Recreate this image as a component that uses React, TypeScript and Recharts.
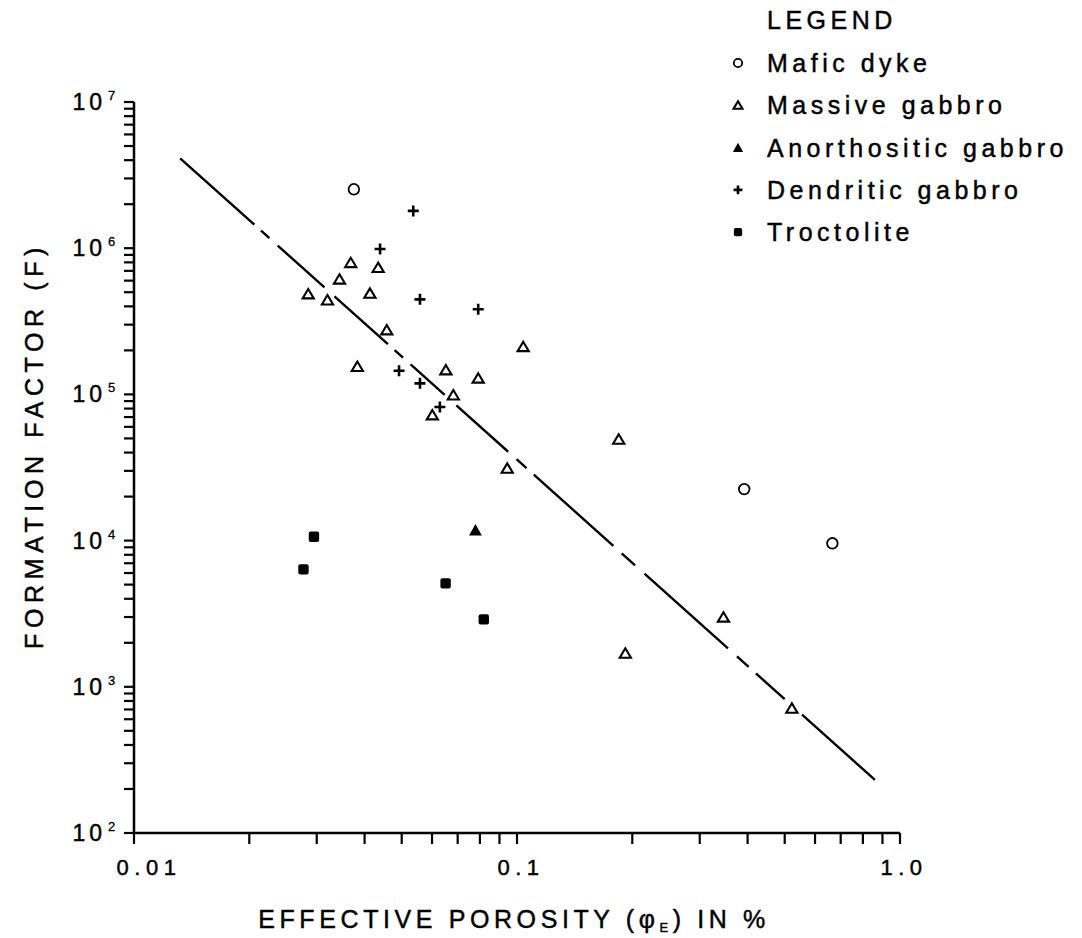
import React from 'react';
import { ComposedChart, Scatter, Line, XAxis, YAxis, Legend, Label } from 'recharts';

// effective porosity (%) vs formation factor
const maficDyke = [
  { x: 0.0375, y: 2530000 },
  { x: 0.392, y: 22500 },
  { x: 0.666, y: 9580 },
];

const massiveGabbro = [
  { x: 0.0285, y: 486000 },
  { x: 0.032, y: 442000 },
  { x: 0.0344, y: 613000 },
  { x: 0.0368, y: 796000 },
  { x: 0.0434, y: 736000 },
  { x: 0.0413, y: 491000 },
  { x: 0.0457, y: 276000 },
  { x: 0.0383, y: 155000 },
  { x: 0.0652, y: 147000 },
  { x: 0.0792, y: 129000 },
  { x: 0.0682, y: 99000 },
  { x: 0.0601, y: 72300 },
  { x: 0.1038, y: 212000 },
  { x: 0.0943, y: 31200 },
  { x: 0.1843, y: 49300 },
  { x: 0.1918, y: 1695 },
  { x: 0.346, y: 2990 },
  { x: 0.522, y: 713 },
];

const anorthositicGabbro = [{ x: 0.0779, y: 11800 }];

const dendriticGabbro = [
  { x: 0.0536, y: 1800000 },
  { x: 0.0439, y: 987000 },
  { x: 0.0558, y: 447000 },
  { x: 0.0792, y: 382000 },
  { x: 0.0492, y: 145000 },
  { x: 0.0558, y: 119000 },
  { x: 0.0629, y: 82000 },
];

const troctolite = [
  { x: 0.0295, y: 10630 },
  { x: 0.0277, y: 6360 },
  { x: 0.0651, y: 5100 },
  { x: 0.0819, y: 2890 },
];

// fitted trend line (end points)
const fitLine = [
  { x: 0.0132, y: 4120000 },
  { x: 0.86, y: 231 },
];

const seriesNames = ['Mafic dyke', 'Massive gabbro', 'Anorthositic gabbro', 'Dendritic gabbro', 'Troctolite'];

const xMajor = [0.01, 0.1, 1];
const xMajorLabels = ['0.01', '0.1', '1.0'];
const xTicks = [
  0.01, 0.02, 0.03, 0.04, 0.05, 0.06, 0.07, 0.08, 0.09,
  0.1, 0.2, 0.3, 0.4, 0.5, 0.6, 0.7, 0.8, 0.9, 1,
];

const yMajor = [100, 1000, 10000, 100000, 1000000, 10000000];
const yExponents = ['2', '3', '4', '5', '6', '7'];
const yMultipliers = [1, 2, 3, 4, 5, 6, 7, 8, 9];
const yTicks = [...yMajor.slice(0, -1).flatMap((d) => yMultipliers.map((m) => m * d)), 10000000];

const FONT = '"Liberation Sans", Arial, Helvetica, sans-serif';
// a thin outline makes the text a little heavier, like the scanned original
const INK = { fill: '#000', stroke: '#000', strokeWidth: 0.45 };

// marker shapes
const OpenCircle = ({ cx, cy, r = 5.3 }: any) => (
  <circle cx={cx} cy={cy} r={r} fill="none" stroke="#000" strokeWidth={1.8} />
);
const OpenTriangle = ({ cx, cy, s = 1 }: any) => (
  <polygon
    points={`${cx},${cy - 5 * s} ${cx - 5.6 * s},${cy + 4.4 * s} ${cx + 5.6 * s},${cy + 4.4 * s}`}
    fill="none"
    stroke="#000"
    strokeWidth={2.1}
  />
);
const FilledTriangle = ({ cx, cy, s = 1 }: any) => (
  <polygon
    points={`${cx},${cy - 6 * s} ${cx - 6.4 * s},${cy + 5.5 * s} ${cx + 6.4 * s},${cy + 5.5 * s}`}
    fill="#000"
  />
);
const Plus = ({ cx, cy, s = 1 }: any) => (
  <path
    d={`M${cx - 5.5 * s},${cy}H${cx + 5.5 * s}M${cx},${cy - 5.5 * s}V${cy + 5.5 * s}`}
    stroke="#000"
    strokeWidth={2.6}
  />
);
const FilledSquare = ({ cx, cy, s = 1 }: any) => (
  <rect x={cx - 5.2 * s} y={cy - 5.2 * s} width={10.4 * s} height={10.4 * s} rx={2} fill="#000" />
);

const legendShapes = [OpenCircle, OpenTriangle, FilledTriangle, Plus, FilledSquare];

// tick labels only on the decades; (x, y) arrive at the end of the tick line
const XTick = (props: any) => {
  const { x, y, payload } = props;
  const i = xMajor.indexOf(payload.value);
  if (i < 0) return <g />;
  return (
    <text
      x={x + (i === 0 ? 15 : 4)}
      y={y + 29}
      textAnchor="middle"
      fontSize={22}
      letterSpacing={5.5}
      fontFamily={FONT}
      {...INK}
    >
      {xMajorLabels[i]}
    </text>
  );
};

const YTick = (props: any) => {
  const { x, y, payload } = props;
  const i = yMajor.indexOf(payload.value);
  if (i < 0) return <g />;
  return (
    <g fontFamily={FONT} {...INK}>
      <text x={x - 16} y={y + 8} textAnchor="end" fontSize={23} letterSpacing={4}>
        10
      </text>
      <text x={x - 14} y={y - 2} fontSize={13} strokeWidth={0.3}>
        {yExponents[i]}
      </text>
    </g>
  );
};

const renderLegend = () => (
  <svg width={382} height={260} style={{ display: 'block' }}>
    <g fontFamily={FONT} fontSize={25} letterSpacing={4.5}>
      <text x={67} y={29} {...INK}>LEGEND</text>
      {seriesNames.map((name, i) => {
        const cy = 63 + i * 42.3;
        const Shape = legendShapes[i];
        return (
          <g key={name}>
            <Shape cx={38} cy={cy} s={0.8} r={4.2} />
            <text x={67} y={cy + 9} {...INK}>
              {name}
            </text>
          </g>
        );
      })}
    </g>
  </svg>
);

export default function App() {
  return (
    <div
      style={{
        position: 'absolute',
        left: 0,
        top: 0,
        width: 1082,
        height: 938,
        background: '#fff',
        fontFamily: FONT,
      }}
    >
      <ComposedChart width={1082} height={938} margin={{ top: 102, right: 182, bottom: 75, left: 74 }}>
        <XAxis
          dataKey="x"
          type="number"
          scale="log"
          domain={[0.01, 1]}
          allowDataOverflow
          ticks={xTicks}
          interval={0}
          tick={<XTick />}
          tickLine={{ stroke: '#000', strokeWidth: 2.2 }}
          tickSize={11}
          height={30}
          axisLine={{ stroke: '#000', strokeWidth: 2.5 }}
        >
          <Label
            content={({ viewBox }: any) => (
              <text
                x={viewBox.x + viewBox.width / 2 - 3}
                y={viewBox.y + 95}
                textAnchor="middle"
                fontSize={25}
                letterSpacing={4.6}
                fontFamily={FONT}
                {...INK}
              >
                EFFECTIVE  POROSITY (φ<tspan fontSize={13} dy={4}>E</tspan>
                <tspan dy={-4}>) IN %</tspan>
              </text>
            )}
          />
        </XAxis>
        <YAxis
          dataKey="y"
          type="number"
          scale="log"
          domain={[100, 10000000]}
          allowDataOverflow
          ticks={yTicks}
          interval={0}
          tick={<YTick />}
          tickLine={{ stroke: '#000', strokeWidth: 2.2 }}
          tickSize={10}
          width={60}
          axisLine={{ stroke: '#000', strokeWidth: 2.5 }}
        >
          <Label
            content={({ viewBox }: any) => {
              const cx = viewBox.x - 40;
              const cy = viewBox.y + viewBox.height / 2 - 22;
              return (
                <text
                  x={cx}
                  y={cy}
                  transform={`rotate(-90 ${cx} ${cy})`}
                  textAnchor="middle"
                  dominantBaseline="central"
                  fontSize={25}
                  letterSpacing={5.6}
                  fontFamily={FONT}
                  {...INK}
                >
                  FORMATION FACTOR (F)
                </text>
              );
            }}
          />
        </YAxis>
        <Legend
          layout="horizontal"
          verticalAlign="middle"
          align="center"
          content={renderLegend}
          wrapperStyle={{ left: 700, top: 0, width: 382, height: 260 }}
        />
        <Line
          data={fitLine}
          dataKey="y"
          stroke="#000"
          strokeWidth={2.4}
          dot={false}
          legendType="none"
          strokeDasharray="99.5 9 11.2 11.2 62.7 13.4 71.7 9 11.3 10.2 45.7 15.7 69.5 11.2 13.4 9.8 106.7 11.2 18 12.6 112 12.1 15.7 9.8 38.5 23.3 300 10"
          isAnimationActive={false}
        />
        <Scatter name={seriesNames[0]} data={maficDyke} shape={<OpenCircle />} isAnimationActive={false} />
        <Scatter name={seriesNames[1]} data={massiveGabbro} shape={<OpenTriangle />} isAnimationActive={false} />
        <Scatter name={seriesNames[2]} data={anorthositicGabbro} shape={<FilledTriangle />} isAnimationActive={false} />
        <Scatter name={seriesNames[3]} data={dendriticGabbro} shape={<Plus />} isAnimationActive={false} />
        <Scatter name={seriesNames[4]} data={troctolite} shape={<FilledSquare />} isAnimationActive={false} />
      </ComposedChart>
    </div>
  );
}
